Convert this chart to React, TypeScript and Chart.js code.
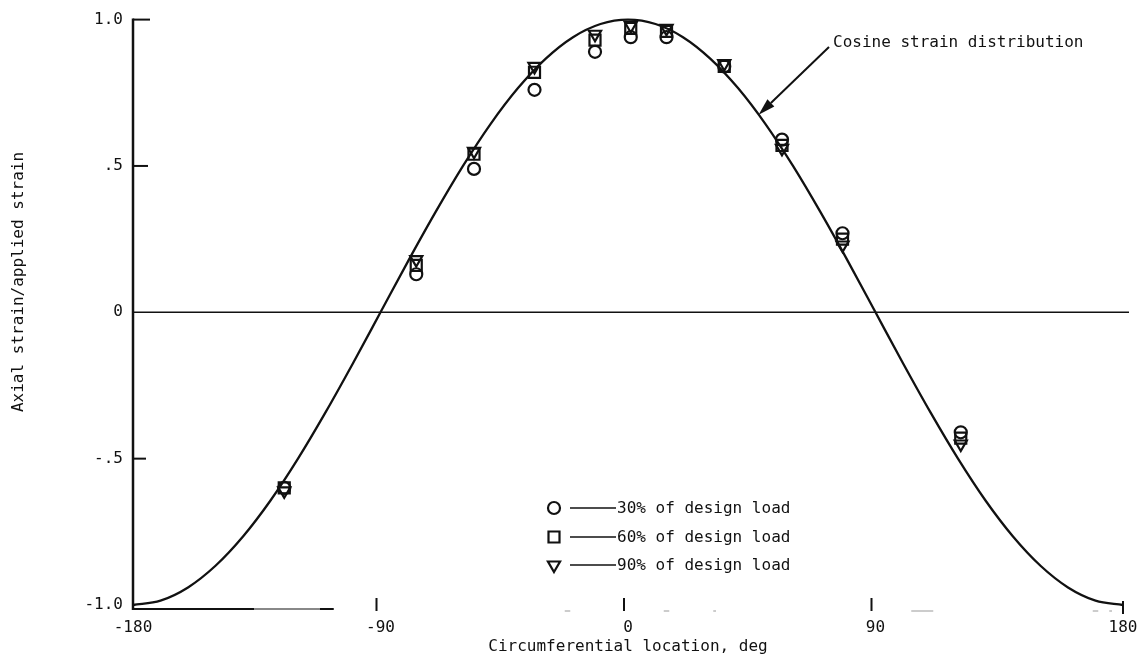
import React, { useEffect, useRef } from 'react';
import { Chart, registerables } from 'chart.js';

Chart.register(...registerables);

// Measured strain ratios at each gauge location (deg)
const angles = [-125, -77, -56, -34, -12, 1, 14, 35, 56, 78, 121];
const load30 = [-0.6, 0.13, 0.49, 0.76, 0.89, 0.94, 0.94, 0.84, 0.59, 0.27, -0.41];
const load60 = [-0.6, 0.16, 0.54, 0.82, 0.93, 0.97, 0.96, 0.84, 0.57, 0.25, -0.43];
const load90 = [-0.61, 0.18, 0.55, 0.84, 0.95, 0.98, 0.97, 0.85, 0.56, 0.23, -0.45];
const seriesLabels = ['30% of design load', '60% of design load', '90% of design load'];

// Reference cosine distribution, sampled every 10 deg
const cosineAngles = [
  -180, -170, -160, -150, -140, -130, -120, -110, -100, -90, -80, -70, -60, -50, -40, -30, -20, -10, 0,
  10, 20, 30, 40, 50, 60, 70, 80, 90, 100, 110, 120, 130, 140, 150, 160, 170, 180,
];
const cosineStrain = [
  -1, -0.985, -0.94, -0.866, -0.766, -0.643, -0.5, -0.342, -0.174, 0, 0.174, 0.342, 0.5, 0.643, 0.766, 0.866, 0.94, 0.985, 1,
  0.985, 0.94, 0.866, 0.766, 0.643, 0.5, 0.342, 0.174, 0, -0.174, -0.342, -0.5, -0.643, -0.766, -0.866, -0.94, -0.985, -1,
];
const cosineLabel = 'Cosine strain distribution';

const xTickValues = [-180, -90, 0, 90, 180];
const xTickLabels = ['-180', '-90', '0', '90', '180'];
const yTickValues = [-1, -0.5, 0, 0.5, 1];
const yTickLabels = ['-1.0', '-.5', '0', '.5', '1.0'];
const xTitle = 'Circumferential location, deg';
const yTitle = 'Axial strain/applied strain';

const FONT = '"DejaVu Sans Mono", "Liberation Mono", monospace';
const INK = '#111';

function drawMarker(ctx: CanvasRenderingContext2D, kind: string, x: number, y: number) {
  ctx.beginPath();
  if (kind === 'circle') {
    ctx.arc(x, y, 6, 0, Math.PI * 2);
  } else if (kind === 'rect') {
    ctx.rect(x - 5.5, y - 5.5, 11, 11);
  } else {
    const r = 7;
    ctx.moveTo(x, y + r);
    ctx.lineTo(x + Math.sin(Math.PI * 2 / 3) * r, y - r / 2);
    ctx.lineTo(x - Math.sin(Math.PI * 2 / 3) * r, y - r / 2);
    ctx.closePath();
  }
  ctx.stroke();
}

const decorUnder = {
  id: 'decorUnder',
  beforeDatasetsDraw(chart: any) {
    const { ctx, chartArea, scales } = chart;
    const xs = scales.x;
    const ys = scales.y;
    const left = chartArea.left;
    const bottom = chartArea.bottom;
    ctx.save();
    ctx.strokeStyle = INK;
    ctx.lineCap = 'butt';

    // left axis
    ctx.lineWidth = 2.5;
    ctx.beginPath();
    ctx.moveTo(left, ys.getPixelForValue(1) - 1);
    ctx.lineTo(left, bottom + 5);
    ctx.stroke();

    // inward tick marks on the left axis
    ctx.lineWidth = 2;
    const tickLen: Record<string, number> = { '1': 17, '0.5': 15, '-0.5': 13 };
    [1, 0.5, -0.5].forEach((v) => {
      const y = ys.getPixelForValue(v);
      ctx.beginPath();
      ctx.moveTo(left, y);
      ctx.lineTo(left + tickLen[String(v)], y);
      ctx.stroke();
    });

    // zero line
    ctx.lineWidth = 1.5;
    const y0 = ys.getPixelForValue(0);
    ctx.beginPath();
    ctx.moveTo(left, y0);
    ctx.lineTo(chartArea.right + 6, y0);
    ctx.stroke();

    // bottom axis segment
    const yb = bottom + 4;
    ctx.lineWidth = 2;
    ctx.beginPath();
    ctx.moveTo(left, yb);
    ctx.lineTo(xs.getPixelForValue(-136), yb);
    ctx.stroke();
    ctx.strokeStyle = '#888';
    ctx.beginPath();
    ctx.moveTo(xs.getPixelForValue(-136), yb);
    ctx.lineTo(xs.getPixelForValue(-112), yb);
    ctx.stroke();
    ctx.strokeStyle = INK;
    ctx.beginPath();
    ctx.moveTo(xs.getPixelForValue(-112), yb);
    ctx.lineTo(xs.getPixelForValue(-107), yb);
    ctx.stroke();

    // faint remnants of the bottom axis
    ctx.strokeStyle = '#aaa';
    ctx.lineWidth = 1.2;
    [[-23, -21], [13, 15], [31, 32], [103, 111], [169, 171], [175, 176]].forEach(([a, b]) => {
      ctx.beginPath();
      ctx.moveTo(xs.getPixelForValue(a), yb + 2);
      ctx.lineTo(xs.getPixelForValue(b), yb + 2);
      ctx.stroke();
    });

    // bottom tick marks
    ctx.strokeStyle = INK;
    ctx.lineWidth = 2;
    [-90, 0, 90].forEach((v) => {
      const x = xs.getPixelForValue(v) - 4;
      ctx.beginPath();
      ctx.moveTo(x, bottom - 7);
      ctx.lineTo(x, bottom + 6);
      ctx.stroke();
    });
    const x180 = xs.getPixelForValue(180);
    ctx.beginPath();
    ctx.moveTo(x180, bottom - 4);
    ctx.lineTo(x180, bottom + 9);
    ctx.stroke();
    ctx.restore();
  },
};

const decorOver = {
  id: 'decorOver',
  afterDatasetsDraw(chart: any) {
    const { ctx, scales } = chart;
    const xs = scales.x;
    const ys = scales.y;
    ctx.save();
    ctx.fillStyle = INK;
    ctx.strokeStyle = INK;
    ctx.font = `16px ${FONT}`;

    // y-axis title
    ctx.save();
    ctx.translate(19, 282);
    ctx.rotate(-Math.PI / 2);
    ctx.textAlign = 'center';
    ctx.textBaseline = 'middle';
    ctx.fillText(yTitle, 0, 0);
    ctx.restore();

    // legend
    const kinds = ['circle', 'rect', 'triangle'];
    const rows = [508, 537, 565];
    ctx.textAlign = 'left';
    ctx.textBaseline = 'middle';
    kinds.forEach((k, i) => {
      const y = rows[i];
      ctx.lineWidth = 2.2;
      drawMarker(ctx, k, 554, y);
      ctx.lineWidth = 1.6;
      ctx.beginPath();
      ctx.moveTo(570, y);
      ctx.lineTo(616, y);
      ctx.stroke();
      ctx.fillText(seriesLabels[i], 617, y + 1);
    });

    // curve annotation with arrow
    const tipX = xs.getPixelForValue(47.5);
    const tipY = ys.getPixelForValue(0.675);
    const tailX = 829;
    const tailY = 47;
    ctx.fillText(cosineLabel, 833, 43);
    const ang = Math.atan2(tipY - tailY, tipX - tailX);
    const headLen = 17;
    const headHalf = 5;
    const bx = tipX - Math.cos(ang) * headLen;
    const by = tipY - Math.sin(ang) * headLen;
    ctx.lineWidth = 2;
    ctx.beginPath();
    ctx.moveTo(tailX, tailY);
    ctx.lineTo(bx, by);
    ctx.stroke();
    ctx.beginPath();
    ctx.moveTo(tipX, tipY);
    ctx.lineTo(bx + Math.sin(ang) * headHalf, by - Math.cos(ang) * headHalf);
    ctx.lineTo(bx - Math.sin(ang) * headHalf, by + Math.cos(ang) * headHalf);
    ctx.closePath();
    ctx.fill();
    ctx.restore();
  },
};

export default function App() {
  const canvasRef = useRef<HTMLCanvasElement | null>(null);

  useEffect(() => {
    const canvas = canvasRef.current;
    if (!canvas) return;
    const pts = (vals: number[]) => angles.map((a, i) => ({ x: a, y: vals[i] }));
    const marker = (label: string, vals: number[], style: string, radius: number, rotation: number) => ({
      type: 'scatter' as const,
      label,
      data: pts(vals),
      pointStyle: style,
      pointRadius: radius,
      pointRotation: rotation,
      pointBorderWidth: 2.2,
      borderColor: INK,
      backgroundColor: 'rgba(0,0,0,0)',
      pointBackgroundColor: 'rgba(0,0,0,0)',
      pointBorderColor: INK,
      clip: false as const,
    });

    const chart = new Chart(canvas, {
      type: 'scatter',
      data: {
        datasets: [
          {
            type: 'line',
            label: cosineLabel,
            data: cosineAngles.map((a, i) => ({ x: a, y: cosineStrain[i] })),
            borderColor: INK,
            borderWidth: 2.3,
            pointRadius: 0,
            cubicInterpolationMode: 'monotone',
            fill: false,
            clip: false,
          } as any,
          marker(seriesLabels[0], load30, 'circle', 6, 0),
          marker(seriesLabels[1], load60, 'rect', 7.8, 0),
          marker(seriesLabels[2], load90, 'triangle', 7, 180),
        ],
      },
      options: {
        responsive: false,
        animation: false,
        devicePixelRatio: 1,
        layout: { padding: { top: 17, right: 21, bottom: 0, left: 0 } },
        plugins: { legend: { display: false }, tooltip: { enabled: false } },
        scales: {
          x: {
            type: 'linear',
            min: -180,
            max: 180,
            grid: { display: false, drawTicks: false },
            border: { display: false },
            afterFit: (s: any) => {
              s.height = 63;
              s.paddingLeft = 0;
              s.paddingRight = 0;
            },
            afterBuildTicks: (s: any) => { s.ticks = xTickValues.map((v) => ({ value: v })); },
            ticks: {
              font: { family: FONT, size: 16 },
              color: INK,
              padding: 13,
              maxRotation: 0,
              autoSkip: false,
              callback: (v: any) => xTickLabels[xTickValues.indexOf(Number(v))],
            },
            title: {
              display: true,
              text: xTitle,
              font: { family: FONT, size: 16 },
              color: INK,
              padding: { top: 0, bottom: 12 },
            },
          },
          y: {
            type: 'linear',
            min: -1,
            max: 1,
            grid: { display: false, drawTicks: false },
            border: { display: false },
            afterFit: (s: any) => { s.width = 133; },
            afterBuildTicks: (s: any) => { s.ticks = yTickValues.map((v) => ({ value: v })); },
            ticks: {
              font: { family: FONT, size: 16 },
              color: INK,
              padding: 10,
              autoSkip: false,
              callback: (v: any) => yTickLabels[yTickValues.indexOf(Number(v))],
            },
          },
        },
      },
      plugins: [decorUnder, decorOver],
    });

    return () => chart.destroy();
  }, []);

  return (
    <div style={{ position: 'fixed', left: 0, top: 0, width: 1144, height: 668, background: '#fff' }}>
      <canvas ref={canvasRef} width={1144} height={668} />
    </div>
  );
}
